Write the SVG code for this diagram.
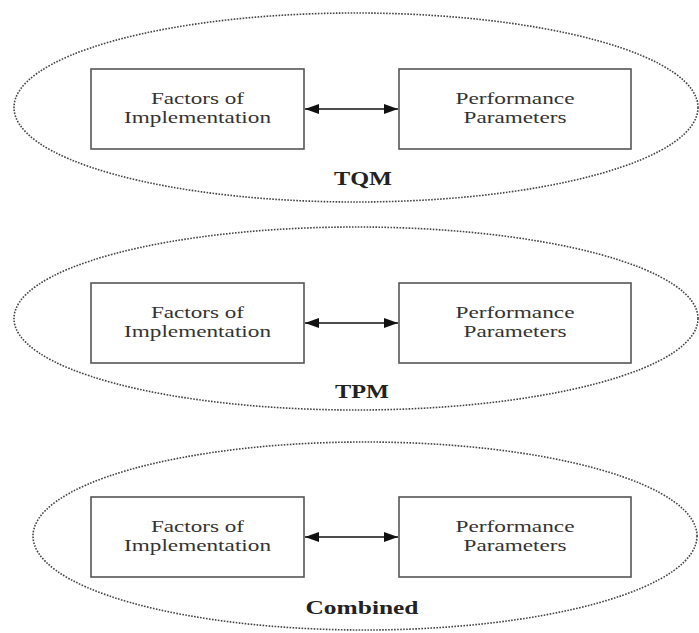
<svg xmlns="http://www.w3.org/2000/svg" width="699" height="633" viewBox="0 0 699 633">
<defs>
<style>
.ell{fill:none;stroke:#444;stroke-width:1.6;stroke-dasharray:1.6 1.4}
.box{fill:#fff;stroke:#555;stroke-width:1.6}
.t{font-family:"Liberation Serif","Times New Roman",serif;font-size:17px;fill:#333;text-anchor:middle}
.lbl{font-family:"Liberation Serif","Times New Roman",serif;font-size:18px;font-weight:bold;fill:#222;text-anchor:middle}
.con{stroke:#111;stroke-width:1.4;fill:none;marker-start:url(#ah);marker-end:url(#ah)}
</style>
<marker id="ah" viewBox="0 0 14 10" refX="14" refY="5" markerWidth="14" markerHeight="10" markerUnits="userSpaceOnUse" orient="auto-start-reverse">
<path d="M0,0 L14,5 L0,10 z" fill="#111"/>
</marker>
</defs>
<rect width="699" height="633" fill="#fff"/>

<g id="tqm">
<ellipse class="ell" cx="356" cy="107.5" rx="342" ry="94.5"/>
<text class="lbl" x="363" y="185" textLength="58" lengthAdjust="spacingAndGlyphs">TQM</text>
</g>
<g id="tqm-factors">
<rect class="box" x="91" y="69" width="213" height="80"/>
<text class="t" x="197.5" y="104" textLength="93" lengthAdjust="spacingAndGlyphs">Factors of</text>
<text class="t" x="197.5" y="123" textLength="147" lengthAdjust="spacingAndGlyphs">Implementation</text>
</g>
<g id="tqm-performance">
<rect class="box" x="399" y="69" width="232" height="80"/>
<text class="t" x="515" y="104" textLength="119" lengthAdjust="spacingAndGlyphs">Performance</text>
<text class="t" x="515" y="123" textLength="103" lengthAdjust="spacingAndGlyphs">Parameters</text>
</g>

<g id="tpm">
<ellipse class="ell" cx="356" cy="318.5" rx="342" ry="91.5"/>
<text class="lbl" x="362" y="398" textLength="54" lengthAdjust="spacingAndGlyphs">TPM</text>
</g>
<g id="tpm-factors">
<rect class="box" x="91" y="283" width="213" height="80"/>
<text class="t" x="197.5" y="318" textLength="93" lengthAdjust="spacingAndGlyphs">Factors of</text>
<text class="t" x="197.5" y="337" textLength="147" lengthAdjust="spacingAndGlyphs">Implementation</text>
</g>
<g id="tpm-performance">
<rect class="box" x="399" y="283" width="232" height="80"/>
<text class="t" x="515" y="318" textLength="119" lengthAdjust="spacingAndGlyphs">Performance</text>
<text class="t" x="515" y="337" textLength="103" lengthAdjust="spacingAndGlyphs">Parameters</text>
</g>

<g id="combined">
<ellipse class="ell" cx="365" cy="536" rx="332" ry="94"/>
<text class="lbl" x="362" y="614" textLength="113" lengthAdjust="spacingAndGlyphs">Combined</text>
</g>
<g id="combined-factors">
<rect class="box" x="91" y="497" width="213" height="80"/>
<text class="t" x="197.5" y="532" textLength="93" lengthAdjust="spacingAndGlyphs">Factors of</text>
<text class="t" x="197.5" y="551" textLength="147" lengthAdjust="spacingAndGlyphs">Implementation</text>
</g>
<g id="combined-performance">
<rect class="box" x="399" y="497" width="232" height="80"/>
<text class="t" x="515" y="532" textLength="119" lengthAdjust="spacingAndGlyphs">Performance</text>
<text class="t" x="515" y="551" textLength="103" lengthAdjust="spacingAndGlyphs">Parameters</text>
</g>

<g id="connectors">
<line class="con" x1="305" y1="109" x2="398" y2="109"/>
<line class="con" x1="305" y1="323" x2="398" y2="323"/>
<line class="con" x1="305" y1="537" x2="398" y2="537"/>
</g>
</svg>
